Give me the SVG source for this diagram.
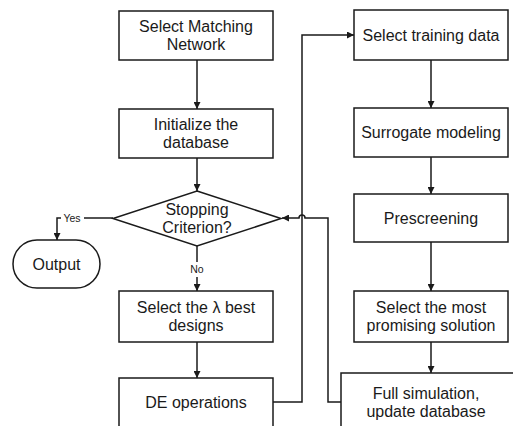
<svg xmlns="http://www.w3.org/2000/svg" width="513" height="426" viewBox="0 0 513 426">
<defs>
<marker id="ah" viewBox="0 0 10 10" refX="10" refY="5" markerWidth="7" markerHeight="7" markerUnits="userSpaceOnUse" orient="auto">
<path d="M0,0 L10,5 L0,10 z" fill="#1a1a1a"/>
</marker>
<style>
.box{fill:#fff;stroke:#1a1a1a;stroke-width:1.5}
.t{font-family:"Liberation Sans",Arial,sans-serif;font-size:16px;fill:#1a1a1a;text-anchor:middle}
.s{font-family:"Liberation Sans",Arial,sans-serif;font-size:10.5px;fill:#1a1a1a;text-anchor:middle}
.c{fill:none;stroke:#1a1a1a;stroke-width:1.5}
</style>
</defs>
<rect width="513" height="426" fill="#fff"/>
<g id="connectors">
<line class="c" x1="197" y1="60" x2="197" y2="109" marker-end="url(#ah)"/>
<line class="c" x1="197" y1="158" x2="197" y2="191" marker-end="url(#ah)"/>
<line class="c" x1="197" y1="246" x2="197" y2="262"/>
<line class="c" x1="197" y1="277" x2="197" y2="291" marker-end="url(#ah)"/>
<line class="c" x1="197" y1="342" x2="197" y2="378" marker-end="url(#ah)"/>
<path class="c" d="M113 218 H84"/>
<path class="c" d="M61 218 H57 V240" marker-end="url(#ah)"/>
<path class="c" d="M273 402 H302 V35 H354" marker-end="url(#ah)"/>
<path class="c" d="M341 402 H328 V218 H305 A3 3 0 0 0 299 218 H282" marker-end="url(#ah)"/>
<line class="c" x1="431" y1="60" x2="431" y2="108" marker-end="url(#ah)"/>
<line class="c" x1="431" y1="157" x2="431" y2="194" marker-end="url(#ah)"/>
<line class="c" x1="431" y1="242" x2="431" y2="291" marker-end="url(#ah)"/>
<line class="c" x1="431" y1="342" x2="431" y2="373" marker-end="url(#ah)"/>
<text class="s" x="72" y="221.5">Yes</text>
<text class="s" x="197" y="273">No</text>
</g>
<g id="select-matching">
<rect class="box" x="119" y="11" width="154" height="49"/>
<text class="t" x="196" y="32">Select Matching</text>
<text class="t" x="196" y="50">Network</text>
</g>
<g id="init-db">
<rect class="box" x="119" y="109" width="154" height="49"/>
<text class="t" x="196" y="129.5">Initialize the</text>
<text class="t" x="196" y="147.5">database</text>
</g>
<g id="stopping">
<polygon class="box" points="197,191 281,218.5 197,246 113,218.5"/>
<text class="t" x="197" y="214.5">Stopping</text>
<text class="t" x="197" y="232.5">Criterion?</text>
</g>
<g id="output">
<rect class="box" x="13" y="240" width="87" height="48" rx="24" ry="24"/>
<text class="t" x="56.5" y="269.5">Output</text>
</g>
<g id="select-best">
<rect class="box" x="119" y="291" width="154" height="51"/>
<text class="t" x="196" y="312.5">Select the λ best</text>
<text class="t" x="196" y="330.5">designs</text>
</g>
<g id="de-ops">
<rect class="box" x="119" y="378" width="154" height="60"/>
<text class="t" x="196" y="407.5">DE operations</text>
</g>
<g id="select-training">
<rect class="box" x="354" y="10" width="154" height="50"/>
<text class="t" x="431" y="40.5">Select training data</text>
</g>
<g id="surrogate">
<rect class="box" x="354" y="108" width="154" height="49"/>
<text class="t" x="431" y="138">Surrogate modeling</text>
</g>
<g id="prescreening">
<rect class="box" x="354" y="194" width="154" height="48"/>
<text class="t" x="431" y="223.5">Prescreening</text>
</g>
<g id="select-promising">
<rect class="box" x="354" y="291" width="154" height="51"/>
<text class="t" x="431" y="312.5">Select the most</text>
<text class="t" x="431" y="330.5">promising solution</text>
</g>
<g id="full-sim">
<rect class="box" x="341" y="373" width="180" height="70"/>
<text class="t" x="426" y="398.5">Full simulation,</text>
<text class="t" x="426" y="416.5">update database</text>
</g>
</svg>
